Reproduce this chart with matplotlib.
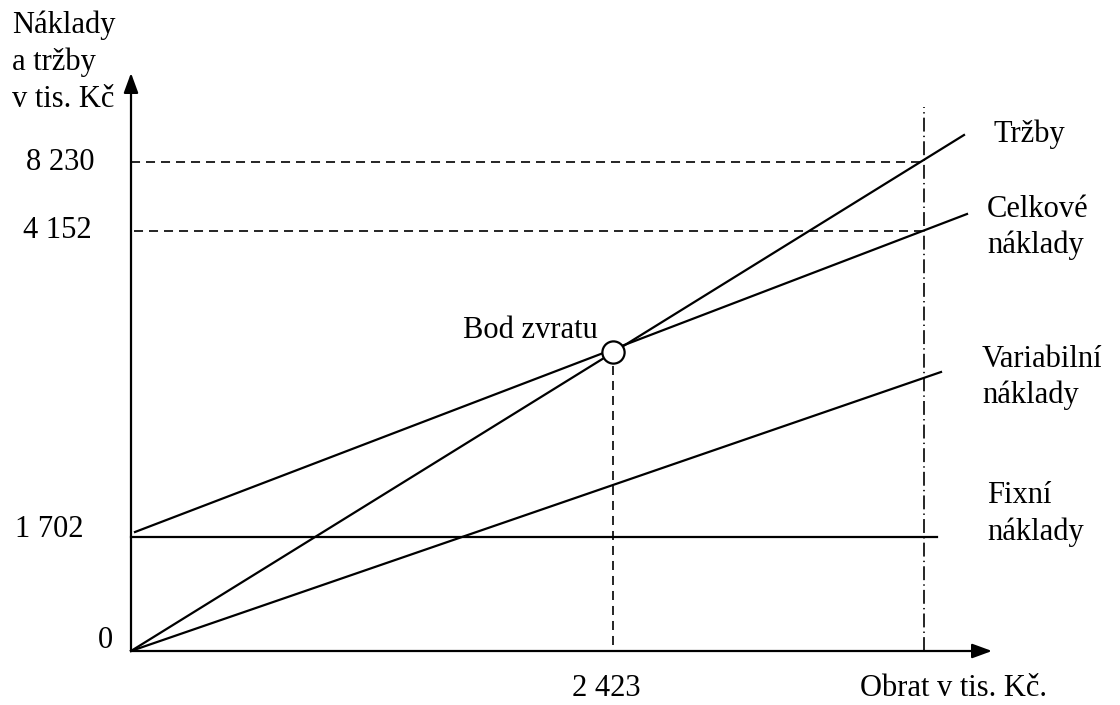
import matplotlib
matplotlib.use("Agg")
import matplotlib.pyplot as plt

plt.rcParams['font.family'] = ['Liberation Serif', 'DejaVu Serif']
plt.rcParams['lines.scale_dashes'] = False

# schematic units (drawing is not to scale): x right of the y axis, y above the x axis
x_end = 793          # position of the vertical dash-dot line (planned turnover)
x_bep = 482          # break-even turnover position
y_bep = 299          # break-even point height
y_fixed = 114        # level of fixed costs
y_total_end = 420    # total costs at x_end
y_sales_end = 489    # sales at x_end

fixed_x = [0, 806]
fixed_y = [y_fixed, y_fixed]
variable_x = [0, 810]
variable_y = [0, 279]
total_x = [4, 836]
total_y = [119, 437]
sales_x = [0, 833]
sales_y = [0, 516]

y_tick_lab = ['8 230', '4 152', '1 702', '0']
x_tick_lab = '2 423'

fig = plt.figure(figsize=(11.2, 7.05), dpi=100)
ax = fig.add_axes([0, 0, 1, 1])
ax.set_xlim(-131, 989)
ax.set_ylim(-54, 651)
ax.axis('off')

lw = 1.6
glw = 1.2
dash = (6.5, 4.3)
fs = 22

# axes with arrows
arrow = dict(arrowstyle='-|>,head_length=0.6,head_width=0.22',
             mutation_scale=20, lw=lw, color='black', shrinkA=0, shrinkB=0)
ax.annotate('', xy=(0, 578), xytext=(0, 0), arrowprops=arrow)
ax.annotate('', xy=(861, 0), xytext=(0, 0), arrowprops=arrow)

# guide lines
ax.plot([0, x_end], [y_sales_end, y_sales_end], color='black', lw=glw,
        linestyle=(0, dash))
ax.plot([3, x_end], [y_total_end, y_total_end], color='black', lw=glw,
        linestyle=(0, dash))
ax.plot([x_end, x_end], [0, 544], color='black', lw=glw,
        linestyle=(0, (10, 3, 1, 3)))
ax.plot([x_bep, x_bep], [6, y_bep - 12], color='black', lw=glw,
        linestyle=(0, dash))

# cost and revenue lines
ax.plot(fixed_x, fixed_y, color='black', lw=lw)
ax.plot(variable_x, variable_y, color='black', lw=lw)
ax.plot(total_x, total_y, color='black', lw=lw)
ax.plot(sales_x, sales_y, color='black', lw=lw)

# break-even point
ax.plot([x_bep], [y_bep], marker='o', markersize=16, markerfacecolor='white',
        markeredgecolor='black', markeredgewidth=lw, zorder=5)
ax.text(332, 313, 'Bod zvratu', fontsize=fs, ha='left', va='baseline')

# tick labels
ax.text(-71, 481, y_tick_lab[0], fontsize=fs, ha='center', va='baseline')
ax.text(-74, 413, y_tick_lab[1], fontsize=fs, ha='center', va='baseline')
ax.text(-82, 114, y_tick_lab[2], fontsize=fs, ha='center', va='baseline')
ax.text(-26, 3, y_tick_lab[3], fontsize=fs, ha='center', va='baseline')
ax.text(475, -45, x_tick_lab, fontsize=fs, ha='center', va='baseline')

# axis titles
for i, s in enumerate(['Náklady', 'a tržby', 'v tis. Kč']):
    ax.text(-119, 618 - 37 * i, s, fontsize=fs, ha='left', va='baseline')
ax.text(729, -45, 'Obrat v tis. Kč.', fontsize=fs, ha='left', va='baseline')

# line labels
ax.text(862, 509, 'Tržby', fontsize=fs, ha='left', va='baseline')
ax.text(856, 434, 'Celkové', fontsize=fs, ha='left', va='baseline')
ax.text(856, 398, 'náklady', fontsize=fs, ha='left', va='baseline')
ax.text(851, 284, 'Variabilní', fontsize=fs, ha='left', va='baseline')
ax.text(851, 248, 'náklady', fontsize=fs, ha='left', va='baseline')
ax.text(856, 148, 'Fixní', fontsize=fs, ha='left', va='baseline')
ax.text(856, 111, 'náklady', fontsize=fs, ha='left', va='baseline')

fig.savefig('out.png', dpi=100, facecolor='white')
